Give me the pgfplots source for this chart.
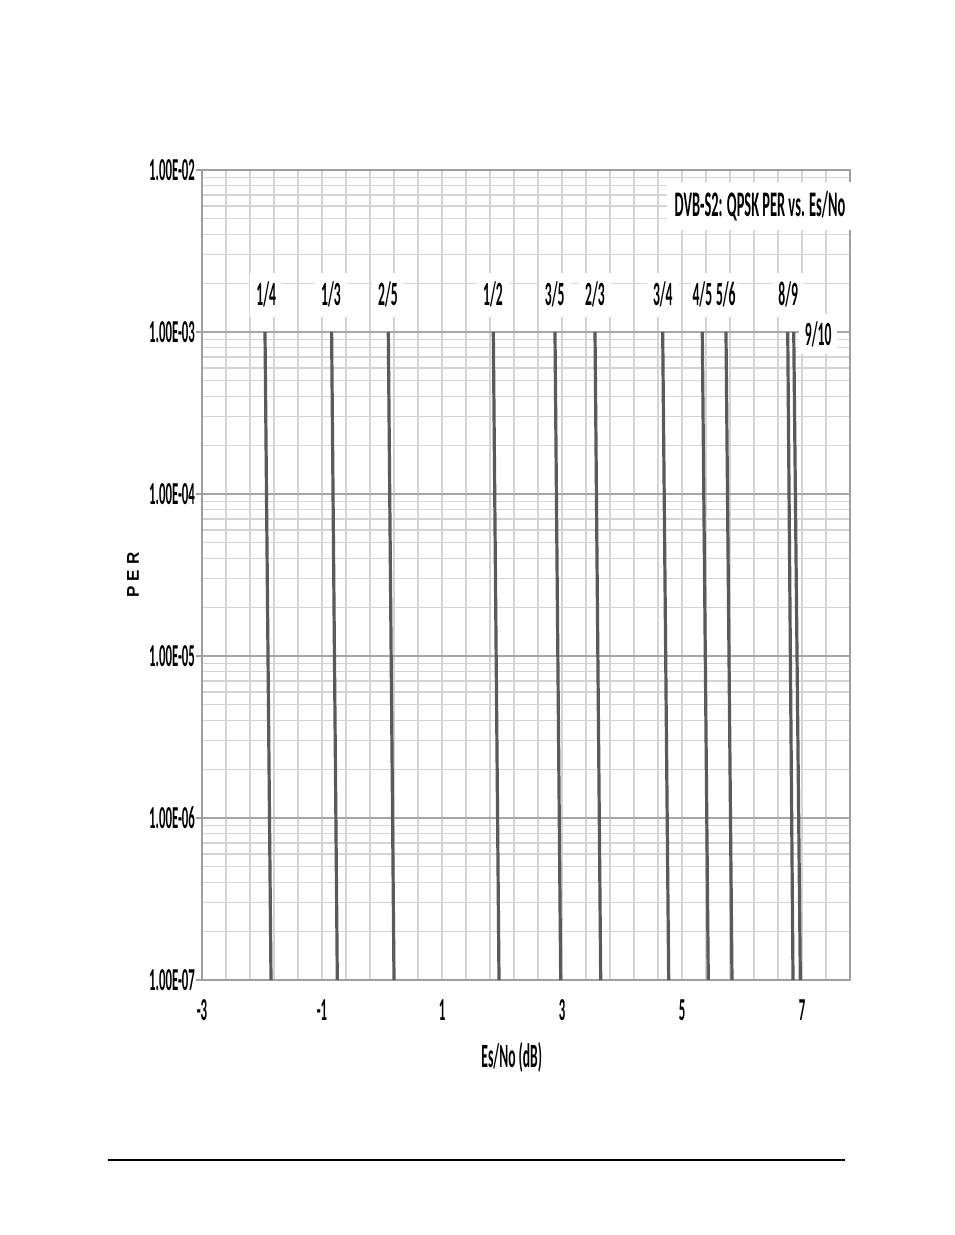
\documentclass[border=0pt]{standalone}
\usepackage{fontspec}
\setmainfont{Carlito}[FakeStretch=0.4, UprightFont={* Bold}]
\newfontfamily\perfont{Liberation Sans}[UprightFont={* Bold}]
\usepackage{pgfplots}
\pgfplotsset{compat=1.18}

\definecolor{curve}{HTML}{5A5A5A}
\definecolor{gridmaj}{HTML}{A6A6A6}
\definecolor{gridmin}{HTML}{D4D4D4}

\pgfplotsset{rate/.style={draw=curve, line width=1.6pt, no markers, solid}}

% one reference pixel = 0.5pt
\begin{document}
\begin{tikzpicture}
\useasboundingbox[fill=white] (0,0) rectangle (477pt,617.5pt);
\draw[line width=0.8pt] (54pt,37.5pt) -- (422.5pt,37.5pt);

\begin{axis}[
  at={(101pt,127.5pt)}, anchor=south west,
  scale only axis,
  width=324pt, height=405pt,
  xmin=-3, xmax=7.8,
  ymode=log, ymin=1e-7, ymax=1e-2,
  xtick={-3,-1,1,3,5,7},
  xticklabels={-3,-1,1,3,5,7},
  minor xtick={-3,-2.6,-2.2,-1.8,-1.4,-1,-0.6,-0.2,0.2,0.6,1,1.4,1.8,2.2,2.6,3,3.4,3.8,4.2,4.6,5,5.4,5.8,6.2,6.6,7,7.4,7.8},
  ytick={1e-7,1e-6,1e-5,1e-4,1e-3,1e-2},
  yticklabels={1.00E-07,1.00E-06,1.00E-05,1.00E-04,1.00E-03,1.00E-02},
  minor ytick={2e-7,3e-7,4e-7,5e-7,6e-7,7e-7,8e-7,9e-7,
               2e-6,3e-6,4e-6,5e-6,6e-6,7e-6,8e-6,9e-6,
               2e-5,3e-5,4e-5,5e-5,6e-5,7e-5,8e-5,9e-5,
               2e-4,3e-4,4e-4,5e-4,6e-4,7e-4,8e-4,9e-4,
               2e-3,3e-3,4e-3,5e-3,6e-3,7e-3,8e-3,9e-3},
  xmajorgrids=false, xminorgrids=true,
  ymajorgrids=true, yminorgrids=true,
  major grid style={draw=gridmaj, line width=1pt},
  minor grid style={draw=gridmin, line width=0.7pt},
  axis line style={draw=gray!75, line width=0.6pt},
  tick align=outside,
  xtick pos=left, ytick pos=left,
  major tick length=3pt, minor tick length=0pt,
  xtick style={draw=none},
  ytick style={draw=gray!75, line width=0.6pt},
  tick label style={font=\fontsize{16}{18}\selectfont},
  xticklabel style={anchor=center, yshift=-12pt},
  yticklabel style={anchor=east, xshift=3pt},
  xlabel={Es/No (dB)},
  xlabel style={at={(axis description cs:0.478,0)}, anchor=center, yshift=-38.5pt,
                font=\fontsize{17}{19}\selectfont},
  ylabel={\perfont P\hspace{2.5pt}E\hspace{2.5pt}R},
  ylabel style={at={(axis description cs:0,0.5)}, anchor=center, yshift=34.5pt,
                font=\fontsize{8.5}{10}\selectfont},
  clip=false,
]
\addplot[rate] coordinates {(-1.95,1e-3) (-1.85,1e-7)};
\addplot[rate] coordinates {(-0.84,1e-3) (-0.745,1e-7)};
\addplot[rate] coordinates {(0.105,1e-3) (0.20,1e-7)};
\addplot[rate] coordinates {(1.855,1e-3) (1.95,1e-7)};
\addplot[rate] coordinates {(2.883,1e-3) (2.978,1e-7)};
\addplot[rate] coordinates {(3.55,1e-3) (3.645,1e-7)};
\addplot[rate] coordinates {(4.678,1e-3) (4.778,1e-7)};
\addplot[rate] coordinates {(5.338,1e-3) (5.438,1e-7)};
\addplot[rate] coordinates {(5.733,1e-3) (5.833,1e-7)};
\addplot[rate] coordinates {(6.762,1e-3) (6.85,1e-7)};
\addplot[rate] coordinates {(6.862,1e-3) (6.972,1e-7)};

\begin{scope}[every node/.style={fill=white, inner xsep=3pt, minimum height=22pt,
    font=\fontsize{17}{19}\selectfont}]
\node at (axis cs:-1.93,1.7e-3) {1/4};
\node at (axis cs:-0.85,1.7e-3) {1/3};
\node at (axis cs:0.1,1.7e-3) {2/5};
\node at (axis cs:1.85,1.7e-3) {1/2};
\node at (axis cs:2.88,1.7e-3) {3/5};
\node at (axis cs:3.55,1.7e-3) {2/3};
\node at (axis cs:4.68,1.7e-3) {3/4};
\node[inner xsep=1pt] at (axis cs:5.34,1.7e-3) {4/5};
\node[inner xsep=1pt] at (axis cs:5.73,1.7e-3) {5/6};
\node at (axis cs:6.77,1.7e-3) {8/9};
\node[minimum height=20pt] at (axis cs:7.27,9.7e-4) {9/10};
\node[minimum height=24pt, inner xsep=4pt, font=\fontsize{18}{20}\selectfont]
  at (axis cs:6.3,6.0e-3) {DVB-S2: QPSK PER vs. Es/No};
\end{scope}
\end{axis}
\end{tikzpicture}
\end{document}
